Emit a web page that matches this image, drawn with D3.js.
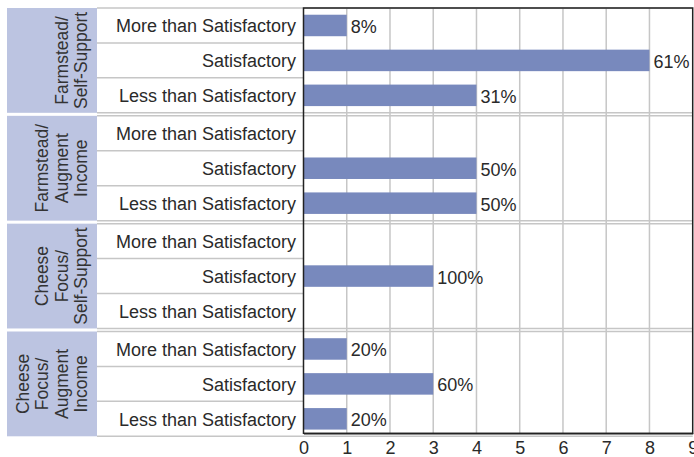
<!DOCTYPE html>
<html>
<head>
<meta charset="utf-8">
<script src="https://cdn.jsdelivr.net/npm/d3@7"></script>
<style>
  body { margin: 0; background: #fff; }
  text { font-family: "Liberation Sans", Arial, sans-serif; }
</style>
</head>
<body>
<script>
// data
const groups = ["FS", "FA", "CS", "CA"];
const groupLines = [
  ["Farmstead/", "Self-Support"],
  ["Farmstead/", "Augment", "Income"],
  ["Cheese", "Focus/", "Self-Support"],
  ["Cheese", "Focus/", "Augment", "Income"]
];
const ratings = ["More than Satisfactory", "Satisfactory", "Less than Satisfactory"];
const counts = [
  [1, 8, 4],
  [0, 4, 4],
  [0, 3, 0],
  [1, 3, 1]
];
const pctLabels = [
  ["8%", "61%", "31%"],
  ["", "50%", "50%"],
  ["", "100%", ""],
  ["20%", "60%", "20%"]
];
const xTicks = [0, 1, 2, 3, 4, 5, 6, 7, 8, 9];

// canvas
const w = 694, h = 457;
const plotTop = 8, plotBottom = 433.3;
const panelL = 7, labelL = 97, plotL = 303.5, plotR = 692.7;
const gap = 3;

const svg = d3.select("body").append("svg")
  .attr("width", w).attr("height", h);

const xScale = d3.scaleLinear().domain([0, 9]).range([plotL, plotR]);

const step = (plotBottom - plotTop + gap) / groups.length;
const gScale = d3.scaleBand().domain(groups)
  .range([plotTop, plotTop + step * groups.length])
  .paddingInner(gap / step).paddingOuter(0);
const rowH = gScale.bandwidth() / 3;

// vertical grid
svg.append("g")
  .selectAll("line")
  .data(xTicks.slice(1, -1))
  .enter().append("line")
  .attr("x1", d => xScale(d)).attr("x2", d => xScale(d))
  .attr("y1", plotTop).attr("y2", plotBottom)
  .attr("stroke", "#c6c6c6").attr("stroke-width", 1.5);

groups.forEach((g, gi) => {
  const y0 = gScale(g);
  const y1 = y0 + gScale.bandwidth();
  const sec = svg.append("g");

  // lavender panel
  sec.append("rect")
    .attr("x", panelL).attr("y", y0)
    .attr("width", labelL - panelL).attr("height", y1 - y0)
    .attr("fill", "#bcc4e1");

  // group label, rotated
  const lines = groupLines[gi];
  const pitch = 19.5;
  const t = sec.append("text")
    .attr("transform", "translate(" + (87 - (lines.length - 1) * pitch) + "," + ((y0 + y1) / 2) + ") rotate(-90)")
    .attr("text-anchor", "middle")
    .attr("font-size", "17.5px")
    .attr("fill", "#333");
  lines.forEach((l, i) => {
    t.append("tspan").attr("x", 0).attr("dy", i == 0 ? 0 : pitch).text(l);
  });

  // row separators
  [0, 1, 2, 3].forEach(i => {
    sec.append("line")
      .attr("x1", labelL).attr("x2", i == 0 || i == 3 ? plotR : plotL)
      .attr("y1", y0 + i * rowH).attr("y2", y0 + i * rowH)
      .attr("stroke", "#c6c6c6").attr("stroke-width", 1.5);
  });

  // row labels
  sec.selectAll("text.row")
    .data(ratings)
    .enter().append("text")
    .attr("class", "row")
    .attr("x", 296)
    .attr("y", (d, i) => y0 + (i + 0.5) * rowH + 0.5)
    .attr("dy", "0.36em")
    .attr("text-anchor", "end")
    .attr("font-size", "18px")
    .attr("fill", "#2a2a2a")
    .text(d => d);

  // bars
  sec.selectAll("rect.bar")
    .data(counts[gi])
    .enter().append("rect")
    .attr("class", "bar")
    .attr("x", xScale(0))
    .attr("y", (d, i) => y0 + i * rowH + (rowH - 21.5) / 2)
    .attr("width", d => xScale(d) - xScale(0))
    .attr("height", 21.5)
    .attr("fill", "#7889bd");

  // value labels
  sec.selectAll("text.val")
    .data(counts[gi])
    .enter().append("text")
    .attr("class", "val")
    .attr("x", d => xScale(d) + 4)
    .attr("y", (d, i) => y0 + (i + 0.5) * rowH + 1)
    .attr("dy", "0.36em")
    .attr("font-size", "18px")
    .attr("fill", "#2a2a2a")
    .text((d, i) => pctLabels[gi][i]);
});

// frame
svg.append("rect")
  .attr("x", plotL).attr("y", plotTop)
  .attr("width", plotR - plotL).attr("height", plotBottom - plotTop)
  .attr("fill", "none").attr("stroke", "#222").attr("stroke-width", 1.5);

// x axis
const xAxis = d3.axisBottom(xScale).tickValues(xTicks).tickSize(0).tickPadding(8);
const ax = svg.append("g")
  .attr("transform", "translate(0," + plotBottom + ")")
  .call(xAxis);
ax.select(".domain").attr("stroke", "#222").attr("stroke-width", 1.5);
ax.selectAll("text")
  .attr("font-size", "18px")
  .attr("font-family", "Liberation Sans, Arial, sans-serif")
  .attr("fill", "#2a2a2a");
</script>
</body>
</html>
